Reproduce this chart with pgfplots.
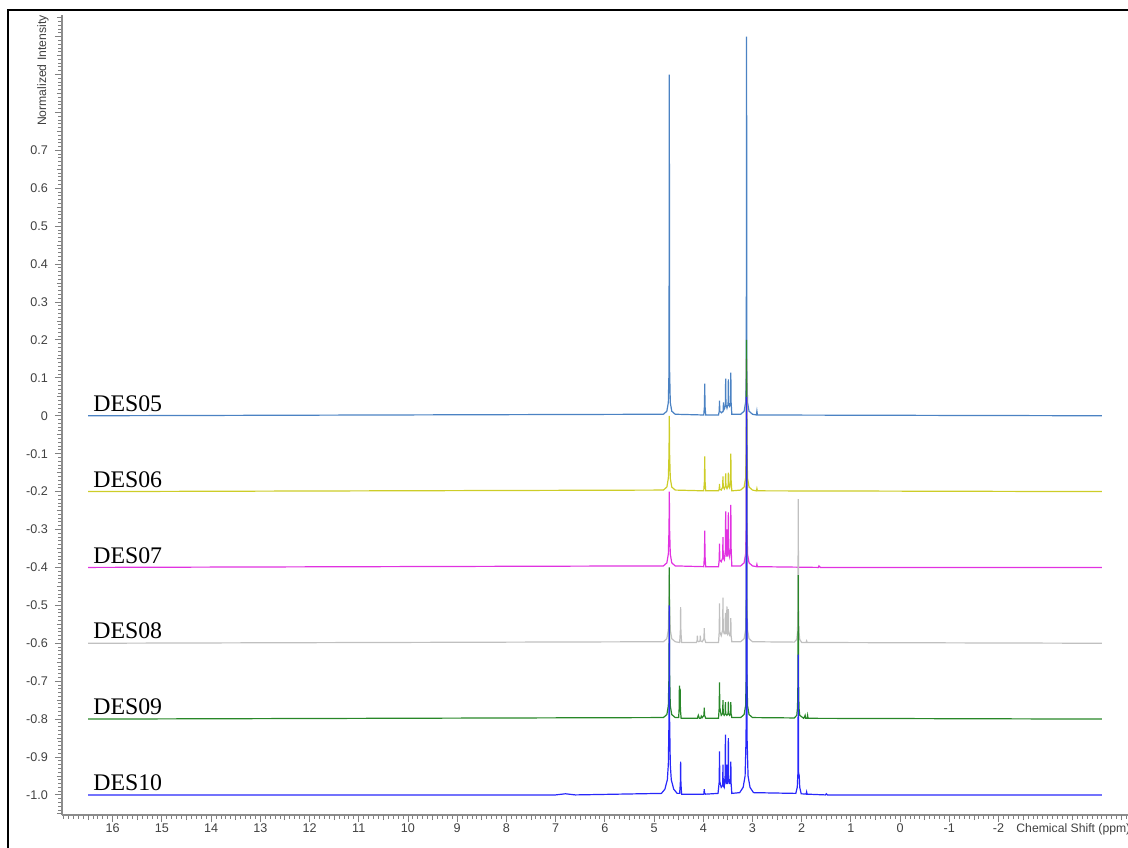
\documentclass[border=0pt]{standalone}
\usepackage{fontspec}
\setmainfont{Liberation Sans}
\newfontfamily\timesf{Liberation Serif}
\usepackage{pgfplots}
\pgfplotsset{compat=1.18}
\definecolor{c05}{RGB}{75,130,195}
\definecolor{c06}{RGB}{205,205,40}
\definecolor{c07}{RGB}{225,50,225}
\definecolor{c08}{RGB}{192,192,192}
\definecolor{c09}{RGB}{40,135,40}
\definecolor{c10}{RGB}{40,40,250}
\newcommand{\tickfont}{\fontsize{6.3}{7}\selectfont}
\newcommand{\labfont}{\fontsize{6.1}{7}\selectfont}
\newcommand{\desfont}{\timesf\fontsize{11.9}{13}\selectfont}
\begin{document}
\begin{tikzpicture}
\begin{axis}[
 at={(0,0)}, anchor=south west,
 scale only axis, width=533pt, height=400pt,
 xmin=-4.63, xmax=17.03, ymin=-1.053, ymax=1.057,
 x dir=reverse,
 axis x line*=bottom, axis y line*=left,
 axis line style={black!45, line width=0.6pt},
 tick align=outside,
 major tick length=3.5pt, minor tick length=1.8pt,
 every tick/.style={black!50, line width=0.45pt},
 xtick={-2,-1,0,1,2,3,4,5,6,7,8,9,10,11,12,13,14,15,16},
 xticklabels={-2,-1,0,1,2,3,4,5,6,7,8,9,10,11,12,13,14,15,16},
 minor xtick={-4.6,-4.5,...,17.0},
 ytick={-1,-0.9,-0.8,-0.7,-0.6,-0.5,-0.4,-0.3,-0.2,-0.1,0,0.1,0.2,0.3,0.4,0.5,0.6,0.7,0.8,0.9,1.0},
 yticklabels={-1.0,-0.9,-0.8,-0.7,-0.6,-0.5,-0.4,-0.3,-0.2,-0.1,0,0.1,0.2,0.3,0.4,0.5,0.6,0.7,{},{},{}},
 minor ytick={-1.05,-1.04,...,1.055},
 extra x ticks={-4.5,-3.5,-2.5,-1.5,-0.5,0.5,1.5,2.5,3.5,4.5,5.5,6.5,7.5,8.5,9.5,10.5,11.5,12.5,13.5,14.5,15.5,16.5},
 extra x tick labels={},
 extra y ticks={-1.05,-0.95,-0.85,-0.75,-0.65,-0.55,-0.45,-0.35,-0.25,-0.15,-0.05,0.05,0.15,0.25,0.35,0.45,0.55,0.65,0.75,0.85,0.95,1.05},
 extra y tick labels={},
 extra tick style={major tick length=2.6pt},
 xticklabel style={font=\tickfont, text=black!75, yshift=2.5pt},
 yticklabel style={font=\tickfont, text=black!75},
 clip=false,
]
% DES05
\addplot[c05, line width=0.6pt] table[y expr=\thisrowno{1}] {
16.5 0
4.81 0.004
4.74 0.012
4.71 0.035
4.696 0.12
4.69 0.90
4.684 0.12
4.67 0.035
4.64 0.012
4.57 0.004
3.99 0.002
3.976 0.025
3.97 0.085
3.964 0.025
3.95 0.002
3.69 0.002
3.676 0.012
3.67 0.04
3.664 0.012
3.63 0.008
3.596 0.012
3.59 0.035
3.584 0.015
3.565 0.02
3.551 0.03
3.545 0.098
3.539 0.03
3.518 0.02
3.496 0.03
3.49 0.096
3.484 0.03
3.465 0.025
3.446 0.035
3.44 0.114
3.434 0.035
3.42 0.004
3.24 0.004
3.17 0.012
3.14 0.035
3.126 0.12
3.12 1.00
3.114 0.12
3.10 0.035
3.07 0.012
3.00 0.004
2.92 0.002
2.91 0.012
2.90 0.002
-4.1 0
};
% DES06
\addplot[c06, line width=0.6pt] table[y expr=\thisrowno{1}-0.2] {
16.5 0
4.81 0.004
4.74 0.012
4.71 0.035
4.696 0.1
4.69 0.2
4.684 0.1
4.67 0.035
4.64 0.012
4.57 0.004
3.99 0.002
3.976 0.028
3.97 0.093
3.964 0.028
3.95 0.002
3.69 0.002
3.676 0.006
3.67 0.02
3.664 0.006
3.635 0.004
3.606 0.012
3.60 0.04
3.594 0.012
3.572 0.007
3.551 0.015
3.545 0.048
3.539 0.015
3.518 0.008
3.496 0.015
3.49 0.05
3.484 0.015
3.465 0.01
3.446 0.03
3.44 0.10
3.434 0.03
3.42 0.002
3.24 0.004
3.17 0.012
3.14 0.035
3.126 0.12
3.12 0.35
3.114 0.12
3.10 0.035
3.07 0.012
3.00 0.004
2.92 0.002
2.91 0.008
2.90 0.002
-4.1 0
};
% DES07
\addplot[c07, line width=0.6pt] table[y expr=\thisrowno{1}-0.4] {
16.5 0
4.81 0.004
4.74 0.012
4.71 0.035
4.696 0.1
4.69 0.2
4.684 0.1
4.67 0.035
4.64 0.012
4.57 0.004
3.99 0.002
3.976 0.03
3.97 0.097
3.964 0.03
3.95 0.002
3.69 0.002
3.676 0.02
3.67 0.063
3.664 0.02
3.635 0.015
3.606 0.025
3.60 0.08
3.594 0.025
3.572 0.02
3.551 0.045
3.545 0.148
3.539 0.045
3.528 0.03
3.521 0.03
3.515 0.10
3.509 0.03
3.503 0.03
3.496 0.045
3.49 0.145
3.484 0.045
3.465 0.03
3.446 0.05
3.44 0.165
3.434 0.05
3.42 0.004
3.24 0.004
3.17 0.012
3.14 0.035
3.126 0.12
3.12 0.55
3.114 0.12
3.10 0.035
3.07 0.012
3.00 0.004
2.92 0.002
2.91 0.008
2.90 0.002
1.66 0
1.65 0.004
1.62 0
-4.1 0
};
% DES08
\addplot[c08, line width=0.6pt] table[y expr=\thisrowno{1}-0.6] {
16.5 0
4.81 0.004
4.74 0.012
4.71 0.035
4.696 0.1
4.69 0.18
4.684 0.1
4.67 0.035
4.64 0.012
4.57 0.004
4.48 0.002
4.466 0.03
4.46 0.095
4.454 0.03
4.44 0.002
4.14 0.002
4.126 0.006
4.12 0.02
4.114 0.006
4.09 0.004
4.066 0.006
4.06 0.02
4.054 0.006
4.02 0.004
3.986 0.012
3.98 0.04
3.974 0.012
3.95 0.002
3.69 0.002
3.676 0.03
3.67 0.105
3.664 0.03
3.635 0.02
3.606 0.035
3.60 0.12
3.594 0.035
3.576 0.025
3.556 0.025
3.55 0.08
3.544 0.025
3.535 0.025
3.526 0.03
3.52 0.097
3.514 0.03
3.505 0.025
3.496 0.03
3.49 0.09
3.484 0.03
3.465 0.02
3.446 0.02
3.44 0.066
3.434 0.02
3.42 0.004
3.24 0.004
3.17 0.012
3.14 0.035
3.126 0.12
3.12 0.75
3.114 0.12
3.10 0.035
3.07 0.012
3.00 0.004
2.15 0.003
2.10 0.01
2.085 0.03
2.076 0.1
2.07 0.38
2.064 0.1
2.055 0.03
2.04 0.01
2.00 0.002
1.91 0.002
1.90 0.006
1.89 0.002
-4.1 0
};
% DES09
\addplot[c09, line width=0.6pt] table[y expr=\thisrowno{1}-0.8] {
16.5 0
4.81 0.004
4.74 0.012
4.71 0.035
4.696 0.12
4.69 0.4
4.684 0.12
4.67 0.035
4.64 0.012
4.57 0.004
4.50 0.004
4.491 0.025
4.485 0.088
4.479 0.03
4.476 0.03
4.47 0.08
4.464 0.025
4.45 0.002
4.12 0.002
4.10 0.01
4.08 0.002
4.05 0.002
4.04 0.008
4.02 0.004
3.986 0.01
3.98 0.03
3.974 0.01
3.95 0.002
3.69 0.002
3.676 0.03
3.67 0.097
3.664 0.03
3.635 0.01
3.606 0.015
3.60 0.05
3.594 0.015
3.575 0.01
3.556 0.014
3.55 0.045
3.544 0.014
3.52 0.01
3.496 0.014
3.49 0.046
3.484 0.014
3.465 0.01
3.446 0.014
3.44 0.045
3.434 0.014
3.42 0.004
3.24 0.004
3.17 0.012
3.14 0.035
3.126 0.12
3.12 1.0
3.114 0.12
3.10 0.035
3.07 0.012
3.00 0.004
2.15 0.003
2.10 0.01
2.085 0.03
2.076 0.1
2.07 0.38
2.064 0.1
2.055 0.03
2.04 0.01
1.96 0.002
1.93 0.01
1.92 0.002
1.89 0.002
1.88 0.01
1.87 0.002
-4.1 0
};
% DES10
\addplot[c10, line width=0.6pt] table[y expr=\thisrowno{1}-1.0] {
16.5 0
7.0 0
6.8 0.003
6.6 0
4.85 0.004
4.78 0.015
4.73 0.04
4.71 0.08
4.696 0.2
4.69 0.5
4.684 0.2
4.67 0.08
4.65 0.04
4.60 0.015
4.53 0.004
4.48 0.004
4.466 0.03
4.46 0.088
4.454 0.03
4.44 0.002
3.99 0.002
3.986 0.005
3.98 0.015
3.974 0.005
3.95 0.002
3.70 0.004
3.676 0.035
3.67 0.115
3.664 0.035
3.635 0.02
3.606 0.025
3.60 0.08
3.594 0.025
3.575 0.02
3.556 0.05
3.55 0.159
3.544 0.05
3.535 0.03
3.526 0.03
3.52 0.08
3.514 0.03
3.505 0.03
3.496 0.045
3.49 0.15
3.484 0.045
3.465 0.03
3.446 0.03
3.44 0.088
3.434 0.03
3.42 0.004
3.26 0.006
3.19 0.02
3.15 0.05
3.13 0.15
3.12 1.05
3.11 0.15
3.09 0.05
3.05 0.02
2.98 0.006
2.12 0.004
2.09 0.02
2.076 0.06
2.07 0.37
2.064 0.06
2.05 0.05
2.04 0.02
2.01 0.003
1.91 0.002
1.90 0.008
1.89 0.002
1.52 0
1.50 0.003
1.48 0
-4.1 0
};
\node[anchor=base west, inner sep=0, font=\desfont, yshift=2.2pt] at (axis cs:16.4,0) {DES05};
\node[anchor=base west, inner sep=0, font=\desfont, yshift=2.2pt] at (axis cs:16.4,-0.2) {DES06};
\node[anchor=base west, inner sep=0, font=\desfont, yshift=2.2pt] at (axis cs:16.4,-0.4) {DES07};
\node[anchor=base west, inner sep=0, font=\desfont, yshift=2.2pt] at (axis cs:16.4,-0.6) {DES08};
\node[anchor=base west, inner sep=0, font=\desfont, yshift=2.2pt] at (axis cs:16.4,-0.8) {DES09};
\node[anchor=base west, inner sep=0, font=\desfont, yshift=2.2pt] at (axis cs:16.4,-1.0) {DES10};
\end{axis}
\draw[line width=1pt] (-27pt,-20pt) -- (-27pt,402.5pt) -- (560pt,402.5pt);
\node[rotate=90, anchor=east, inner sep=0, font=\labfont, text=black!75] at (-9.5pt,400pt) {Normalized Intensity};
\node[anchor=west, inner sep=0, font=\labfont, text=black!75] at (477pt,-7pt) {Chemical Shift (ppm)};
\pgfresetboundingbox
\useasboundingbox (-31pt,-16pt) rectangle (533pt,407.5pt);
\end{tikzpicture}
\end{document}
